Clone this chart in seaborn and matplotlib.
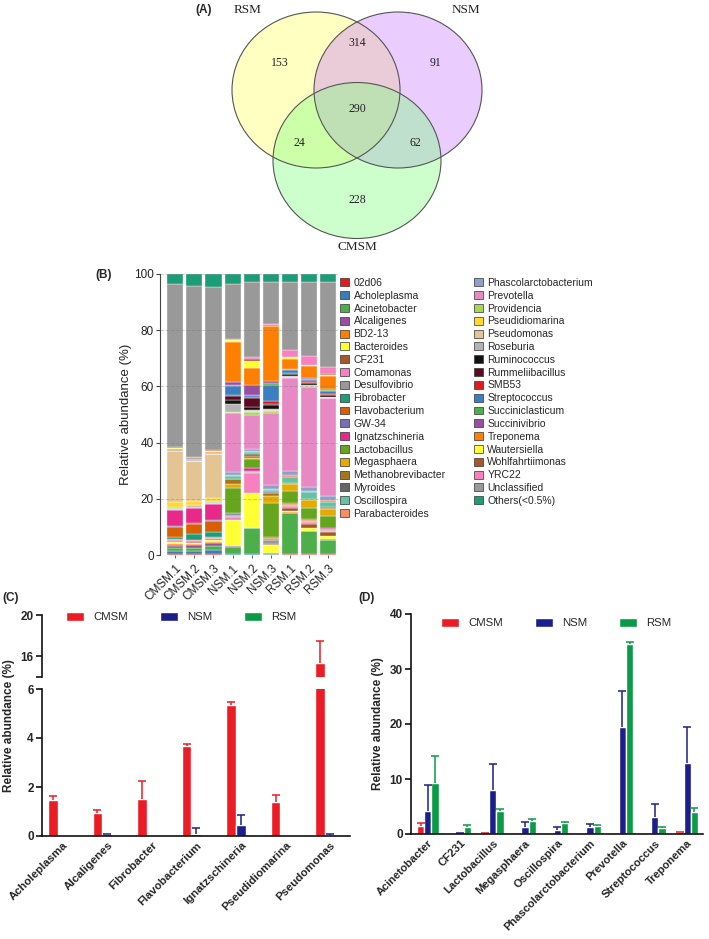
import matplotlib
matplotlib.use('Agg')
import matplotlib.pyplot as plt
import matplotlib.patches as mpatches
import seaborn as sns
import pandas as pd
import numpy as np

sns.set_theme(style='ticks')
plt.rcParams['font.family'] = ['Liberation Sans', 'DejaVu Sans']

W, H = 709, 939

# ---------------- (A) Venn counts ----------------
venn_sets = ['RSM', 'NSM', 'CMSM']
venn_regions = ['RSM', 'NSM', 'CMSM', 'RSM&NSM', 'RSM&CMSM', 'NSM&CMSM', 'RSM&NSM&CMSM']
venn_counts = [153, 91, 228, 314, 24, 62, 290]

# ---------------- (B) relative abundance per sample ----------------
samples = ['CMSM.1', 'CMSM.2', 'CMSM.3', 'NSM.1', 'NSM.2', 'NSM.3', 'RSM.1', 'RSM.2', 'RSM.3']
genera = ['02d06', 'Acholeplasma', 'Acinetobacter', 'Alcaligenes', 'BD2-13', 'Bacteroides',
          'CF231', 'Comamonas', 'Desulfovibrio', 'Fibrobacter', 'Flavobacterium', 'GW-34',
          'Ignatzschineria', 'Lactobacillus', 'Megasphaera', 'Methanobrevibacter', 'Myroides',
          'Oscillospira', 'Parabacteroides', 'Phascolarctobacterium', 'Prevotella', 'Providencia',
          'Pseudidiomarina', 'Pseudomonas', 'Roseburia', 'Ruminococcus', 'Rummeliibacillus',
          'SMB53', 'Streptococcus', 'Succiniclasticum', 'Succinivibrio', 'Treponema',
          'Wautersiella', 'Wohlfahrtiimonas', 'YRC22', 'Unclassified', 'Others(<0.5%)']
genus_colors = ['#e41a1c', '#377eb8', '#4daf4a', '#984ea3', '#ff7f00', '#ffff33', '#a65628',
                '#f781bf', '#999999', '#1b9e77', '#d95f02', '#7570b3', '#e7298a', '#66a61e',
                '#e6ab02', '#a6761d', '#666666', '#66c2a5', '#fc8d62', '#8da0cb', '#e78ac3',
                '#a6d854', '#ffd92f', '#e5c494', '#b3b3b3', '#111111', '#5c0a1f', '#e31a1c',
                '#3a7fc1', '#4daf4a', '#984ea3', '#ff7f00', '#ffff33', '#a65628', '#f781bf',
                '#999999', '#1b9e77']

cmsm_1 = [0.2, 1.3, 0.9, 0.9, 0.7, 0.5, 0.3, 0.6, 0.2, 0.9, 3.5, 0.3, 5.6, 0.2, 0.2, 0.1, 0.1, 0.1, 0.2,
          0.1, 0.2, 0.1, 1.8, 18.0, 0.1, 0.05, 0.05, 0.05, 0.1, 0.1, 0.05, 0.3, 0.2, 0.3, 0.1, 58.0, 3.6]
cmsm_2 = [0.2, 1.4, 1.0, 0.8, 0.6, 0.4, 0.3, 0.6, 0.2, 2.0, 3.6, 0.4, 5.2, 0.2, 0.2, 0.1, 0.1, 0.1, 0.2,
          0.1, 0.1, 0.1, 1.2, 14.2, 0.1, 0.05, 0.05, 0.05, 0.1, 0.1, 0.05, 0.3, 0.2, 0.3, 0.1, 61.0, 4.3]
cmsm_3 = [0.2, 1.7, 1.4, 0.9, 0.6, 0.5, 0.3, 0.5, 0.2, 2.0, 3.8, 0.5, 5.4, 0.2, 0.2, 0.1, 0.1, 0.1, 0.2,
          0.1, 0.1, 0.1, 1.0, 15.6, 0.1, 0.05, 0.05, 0.05, 0.1, 0.1, 0.05, 0.4, 0.2, 0.3, 0.1, 58.2, 4.5]
nsm_1 = [0.1, 0.1, 2.8, 0.1, 0.1, 9.2, 0.2, 1.0, 0.4, 0.2, 0.2, 0.4, 0.3, 8.8, 1.2, 1.8, 0.3, 0.8, 0.4,
         1.0, 21.0, 0.4, 0.1, 0.1, 2.8, 1.3, 1.6, 0.4, 3.0, 0.4, 1.2, 14.0, 0.7, 0.2, 0.3, 19.5, 3.6]
nsm_2 = [0.1, 0.1, 9.3, 0.1, 0.1, 12.2, 0.2, 7.0, 0.3, 0.2, 0.2, 0.2, 1.0, 3.2, 0.4, 0.8, 0.4, 0.8, 0.3,
         0.8, 12.2, 1.0, 0.1, 0.1, 0.4, 1.0, 3.4, 0.4, 0.5, 0.3, 3.5, 6.0, 2.5, 0.8, 0.5, 26.9, 2.7]
nsm_3 = [0.1, 0.1, 0.3, 0.1, 0.1, 2.9, 0.2, 0.2, 1.5, 0.2, 0.2, 0.2, 0.3, 12.0, 2.6, 0.9, 0.5, 0.8, 0.3,
         1.4, 25.5, 0.9, 0.1, 0.1, 0.5, 1.4, 0.5, 0.9, 5.8, 0.5, 0.8, 19.5, 0.2, 0.2, 0.5, 14.7, 3.0]
rsm_1 = [0.4, 0.1, 14.4, 0.1, 0.2, 0.3, 1.4, 0.6, 0.2, 0.1, 0.2, 0.1, 0.3, 4.5, 2.3, 0.5, 0.1, 2.0, 0.5,
         1.5, 33.3, 0.2, 0.1, 0.1, 0.2, 0.7, 0.1, 0.1, 1.3, 0.2, 0.2, 3.6, 0.4, 0.2, 2.6, 24.2, 2.7]
rsm_2 = [0.3, 0.1, 8.0, 0.1, 0.2, 0.9, 1.4, 0.8, 0.2, 0.1, 0.2, 0.1, 0.3, 4.0, 2.9, 0.4, 0.1, 2.2, 0.5,
         1.3, 35.8, 0.2, 0.1, 0.1, 0.2, 0.7, 0.1, 0.1, 1.0, 0.2, 0.4, 4.2, 0.3, 0.2, 3.0, 26.4, 2.9]
rsm_3 = [0.3, 0.1, 5.0, 0.1, 0.2, 1.0, 1.4, 0.6, 0.2, 0.1, 0.2, 0.1, 0.2, 4.3, 2.5, 0.6, 0.1, 2.0, 0.6,
         1.4, 34.7, 0.2, 0.1, 0.1, 0.2, 0.7, 0.1, 0.1, 1.2, 0.2, 0.4, 4.8, 0.3, 0.2, 2.7, 30.0, 3.0]

# ---------------- (C) and (D) group means ----------------
groups = ['CMSM', 'NSM', 'RSM']
group_colors = ['#ec1c24', '#1c1f8a', '#0b9a48']

c_genera = ['Acholeplasma', 'Alcaligenes', 'Fibrobacter', 'Flavobacterium',
            'Ignatzschineria', 'Pseudidiomarina', 'Pseudomonas']
c_cmsm = [1.45, 0.95, 1.5, 3.68, 5.35, 1.38, 15.4]
c_nsm = [0.0, 0.08, 0.02, 0.1, 0.45, 0.03, 0.06]
c_rsm = [0.0, 0.05, 0.04, 0.02, 0.05, 0.0, 0.03]
c_cmsm_err = [0.17, 0.1, 0.73, 0.07, 0.12, 0.28, 2.1]
c_nsm_err = [0.0, 0.02, 0.0, 0.22, 0.42, 0.0, 0.02]
c_rsm_err = [0.0, 0.0, 0.0, 0.0, 0.0, 0.0, 0.0]

d_genera = ['Acinetobacter', 'CF231', 'Lactobacillus', 'Megasphaera', 'Oscillospira',
            'Phascolarctobacterium', 'Prevotella', 'Streptococcus', 'Treponema']
d_cmsm = [1.4, 0.0, 0.1, 0.0, 0.0, 0.05, 0.1, 0.05, 0.3]
d_nsm = [4.1, 0.2, 8.0, 1.2, 0.8, 1.2, 19.5, 3.1, 12.9]
d_rsm = [9.2, 1.3, 4.2, 2.4, 2.0, 1.5, 34.5, 1.1, 4.0]
d_cmsm_err = [0.6, 0.0, 0.05, 0.0, 0.0, 0.0, 0.0, 0.0, 0.1]
d_nsm_err = [4.8, 0.05, 4.8, 1.0, 0.5, 0.7, 6.5, 2.4, 6.5]
d_rsm_err = [4.9, 0.3, 0.3, 0.4, 0.15, 0.2, 0.5, 0.15, 0.7]


def px_rect(left, top, right, bottom):
    return [left / W, 1 - bottom / H, (right - left) / W, (bottom - top) / H]


def px_pt(x, y):
    return (x / W, 1 - y / H)


def grouped_bars(ax, df, errs):
    sns.barplot(data=df, x='genus', y='value', hue='group', hue_order=groups,
                palette=group_colors, width=0.67, saturation=1, errorbar=None,
                legend=False, ax=ax)
    # one-sided (upper) error bars
    for cont, col, err in zip(ax.containers, group_colors, errs):
        xs = np.array([b.get_x() + b.get_width() / 2 for b in cont])
        ys = np.array([b.get_height() for b in cont])
        err = np.array(err)
        keep = err > 0
        ax.vlines(xs[keep], ys[keep], ys[keep] + err[keep], color=col, linewidth=1.1)
        ax.plot(xs[keep], ys[keep] + err[keep], ls='none', marker='_', ms=5.5, mew=1.1, color=col)


def style_axis(ax):
    for s in ['top', 'right']:
        ax.spines[s].set_visible(False)
    for s in ['left', 'bottom']:
        ax.spines[s].set_linewidth(1.2)
        ax.spines[s].set_color('#111111')
    ax.tick_params(width=1.2, length=4, color='#111111', labelsize=8.5, pad=2)
    ax.tick_params(axis='x', length=0, pad=3)
    ax.set_xlabel('')
    ax.set_ylabel('')


fig = plt.figure(figsize=(W / 100, H / 100), dpi=100)

# ================= (A) Venn =================
ax_a = fig.add_axes([0, 1 - 262 / H, 1, 262 / H])
ax_a.set_xlim(0, W)
ax_a.set_ylim(262, 0)
ax_a.axis('off')
venn_centers = [(316, 90), (398, 90), (357, 160.5)]
venn_fill = ['#ffff66', '#cc80ff', '#80ff80']
for (cx, cy), col in zip(venn_centers, venn_fill):
    ax_a.add_patch(mpatches.Ellipse((cx, cy), 168, 156, facecolor=col, alpha=0.4, edgecolor='none'))
for cx, cy in venn_centers:
    ax_a.add_patch(mpatches.Ellipse((cx, cy), 168, 156, facecolor='none', edgecolor='#555555', linewidth=0.8))
venn_label_pos = [(248, 10), (466, 10), (357, 247)]
for name, (x, y) in zip(venn_sets, venn_label_pos):
    ax_a.text(x, y, name, ha='center', va='center', family='Liberation Serif', fontsize=9.5, color='#222222')
venn_count_pos = [(280, 63), (435, 63), (357, 200), (357, 43), (299, 143), (415, 143), (357, 109)]
for cnt, (x, y) in zip(venn_counts, venn_count_pos):
    ax_a.text(x, y, str(cnt), ha='center', va='center', family='Liberation Serif', fontsize=8.5, color='#222222')
fig.text(*px_pt(204, 10), '(A)', ha='center', va='center', fontsize=8.5, fontweight='bold')

# ================= (B) stacked bars =================
df_b = pd.DataFrame({'CMSM.1': cmsm_1, 'CMSM.2': cmsm_2, 'CMSM.3': cmsm_3,
                     'NSM.1': nsm_1, 'NSM.2': nsm_2, 'NSM.3': nsm_3,
                     'RSM.1': rsm_1, 'RSM.2': rsm_2, 'RSM.3': rsm_3}, index=genera)
ax_b = fig.add_axes(px_rect(160, 274, 338, 555))
bottom = np.zeros(len(samples))
for g, col in zip(genera, genus_colors):
    vals = df_b.loc[g, samples].to_numpy()
    sns.barplot(x=samples, y=vals, bottom=bottom, color=col, saturation=1, width=0.84,
                errorbar=None, ax=ax_b, edgecolor='white', linewidth=0.25)
    bottom = bottom + vals
ax_b.set_xlim(-0.79, 8.5)
ax_b.set_ylim(0, 100)
ax_b.set_yticks([0, 20, 40, 60, 80, 100])
ax_b.yaxis.grid(True, linestyle='--', color='#777777', alpha=0.35, linewidth=0.7)
ax_b.set_axisbelow(False)
for s in ['top', 'right', 'bottom']:
    ax_b.spines[s].set_visible(False)
ax_b.spines['left'].set_color('#444444')
ax_b.spines['left'].set_linewidth(0.8)
ax_b.tick_params(axis='y', length=3, width=0.8, color='#444444', labelsize=8.5,
                 labelcolor='#222222', pad=1.5)
ax_b.tick_params(axis='x', length=2, width=0.6, color='#444444', labelsize=8.5, labelcolor='#222222')
ax_b.set_xticks(range(len(samples)))
ax_b.set_xticklabels(samples, rotation=45, ha='right', rotation_mode='anchor')
ax_b.set_ylabel('Relative abundance (%)', fontsize=9.5, color='#222222', labelpad=1)
fig.text(*px_pt(104, 275), '(B)', ha='center', va='center', fontsize=8.5, fontweight='bold')

handles_b = [mpatches.Patch(facecolor=c, edgecolor='#333333', linewidth=0.5, label=g)
             for g, c in zip(genera, genus_colors)]
fig.legend(handles=handles_b, ncol=2, loc='upper left', bbox_to_anchor=px_pt(340, 278),
           frameon=False, fontsize=7.5, handlelength=0.9, handleheight=0.8, handletextpad=0.4,
           labelspacing=0.27, columnspacing=2.7, borderaxespad=0, borderpad=0)

# ================= (C) broken-axis grouped bars =================
df_c = pd.DataFrame({'genus': c_genera * 3,
                     'group': np.repeat(groups, len(c_genera)),
                     'value': c_cmsm + c_nsm + c_rsm})
c_errs = [c_cmsm_err, c_nsm_err, c_rsm_err]
ax_cu = fig.add_axes(px_rect(42, 615, 350, 677))
ax_cl = fig.add_axes(px_rect(42, 689, 350, 836))
for ax in (ax_cu, ax_cl):
    grouped_bars(ax, df_c, c_errs)
    ax.set_xlim(-0.47, 6.45)
    style_axis(ax)
ax_cu.set_ylim(14, 20)
ax_cu.set_yticks([14, 16, 20])
ax_cu.set_yticklabels(['', '16', '20'], fontweight='bold')
ax_cu.spines['bottom'].set_visible(False)
ax_cu.tick_params(axis='x', bottom=False, labelbottom=False)
ax_cl.set_ylim(0, 6)
ax_cl.set_yticks([0, 2, 4, 6])
ax_cl.set_yticklabels(['0', '2', '4', '6'], fontweight='bold')
ax_cl.set_xticks(range(len(c_genera)))
ax_cl.set_xticklabels(c_genera, rotation=45, ha='right', rotation_mode='anchor',
                      fontweight='bold', fontsize=8.2)
fig.text(*px_pt(9, 726), 'Relative abundance (%)', rotation=90, ha='center', va='center',
         fontsize=8.5, fontweight='bold')
fig.text(*px_pt(11, 598), '(C)', ha='center', va='center', fontsize=8.5, fontweight='bold')

# ================= (D) grouped bars =================
df_d = pd.DataFrame({'genus': d_genera * 3,
                     'group': np.repeat(groups, len(d_genera)),
                     'value': d_cmsm + d_nsm + d_rsm})
ax_d = fig.add_axes(px_rect(411, 614, 703, 834))
grouped_bars(ax_d, df_d, [d_cmsm_err, d_nsm_err, d_rsm_err])
ax_d.set_xlim(-0.52, 8.49)
ax_d.set_ylim(0, 40)
style_axis(ax_d)
ax_d.set_yticks([0, 10, 20, 30, 40])
ax_d.set_yticklabels(['0', '10', '20', '30', '40'], fontweight='bold')
ax_d.set_xticks(range(len(d_genera)))
ax_d.set_xticklabels(d_genera, rotation=45, ha='right', rotation_mode='anchor',
                     fontweight='bold', fontsize=8)
fig.text(*px_pt(378, 724), 'Relative abundance (%)', rotation=90, ha='center', va='center',
         fontsize=8.5, fontweight='bold')
fig.text(*px_pt(367, 598), '(D)', ha='center', va='center', fontsize=8.5, fontweight='bold')

group_handles = [mpatches.Patch(facecolor=c, label=g) for g, c in zip(groups, group_colors)]
for x0, y0 in [(66, 617), (441, 623)]:
    fig.legend(handles=group_handles, ncol=3, loc='center left', bbox_to_anchor=px_pt(x0, y0),
               frameon=False, fontsize=8.2, handlelength=1.6, handleheight=0.8,
               handletextpad=0.8, columnspacing=2.8, borderaxespad=0, borderpad=0)

fig.savefig('out.png', dpi=100)
